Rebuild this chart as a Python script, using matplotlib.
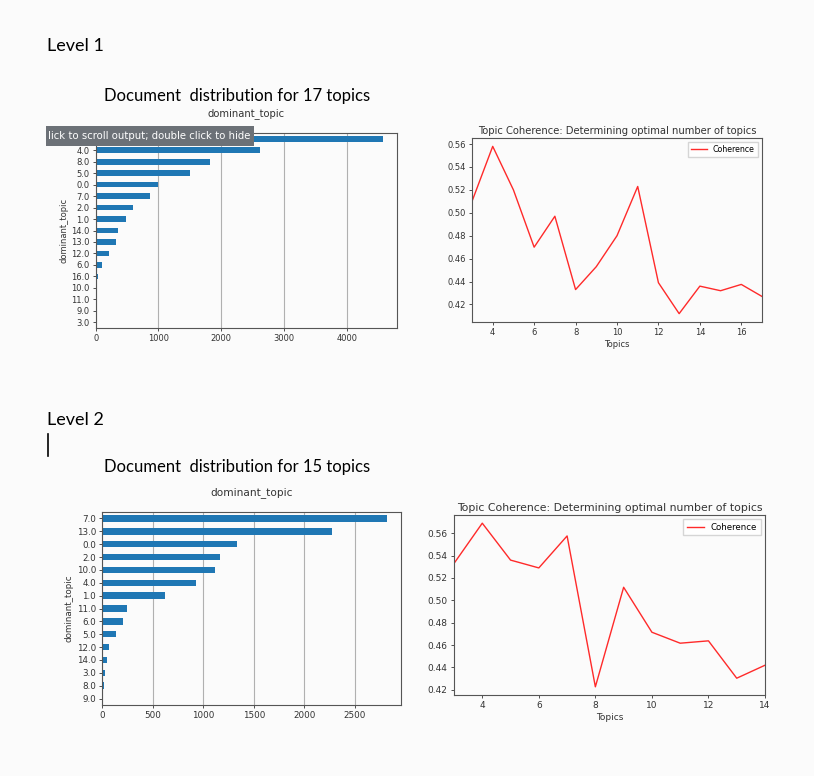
import matplotlib
matplotlib.use('Agg')
import matplotlib.pyplot as plt
from matplotlib.patches import Rectangle
from matplotlib.lines import Line2D

# level 1: document counts per dominant topic (top to bottom as shown)
topics_17 = ['15.0', '4.0', '8.0', '5.0', '0.0', '7.0', '2.0', '1.0', '14.0', '13.0',
             '12.0', '6.0', '16.0', '10.0', '11.0', '9.0', '3.0']
counts_17 = [4574, 2620, 1818, 1497, 1000, 861, 588, 487, 358, 330,
             215, 95, 35, 20, 20, 3, 1]

# level 2
topics_15 = ['7.0', '13.0', '0.0', '2.0', '10.0', '4.0', '1.0', '11.0', '6.0', '5.0',
             '12.0', '14.0', '3.0', '8.0', '9.0']
counts_15 = [2814, 2270, 1333, 1160, 1118, 931, 624, 248, 206, 134,
             65, 49, 23, 13, 2]

# coherence per number of topics
n_topics_1 = [3, 4, 5, 6, 7, 8, 9, 10, 11, 12, 13, 14, 15, 16, 17]
coherence_1 = [0.510, 0.558, 0.520, 0.470, 0.497, 0.433, 0.453, 0.480, 0.523,
               0.439, 0.412, 0.436, 0.432, 0.4375, 0.427]
n_topics_2 = [3, 4, 5, 6, 7, 8, 9, 10, 11, 12, 13, 14]
coherence_2 = [0.533, 0.569, 0.536, 0.529, 0.5576, 0.4227, 0.5117, 0.4715,
               0.4617, 0.4638, 0.4304, 0.442]

bg = '#fbfbfb'
W, H = 814, 776
fig = plt.figure(figsize=(W/100, H/100), dpi=100, facecolor=bg)
doc_font = ['Lato', 'DejaVu Sans']


def box(l, t, r, b):
    return [l/W, 1 - b/H, (r-l)/W, (b-t)/H]


def bar_panel(rect, labels, vals, fs):
    ax = fig.add_axes(rect, facecolor=bg)
    y = list(range(len(vals)))
    ax.barh(y, vals[::-1], height=0.5, color='#1f77b4', zorder=2)
    ax.set_yticks(y)
    ax.set_yticklabels(labels[::-1])
    ax.set_ylim(-0.5, len(vals) - 0.5)
    ax.set_xlim(0, max(vals) * 1.05)
    ax.grid(axis='x', color='#b0b0b0', lw=0.8, zorder=0)
    ax.tick_params(labelsize=fs, length=2.5, width=0.6, pad=2, colors='#333333')
    ax.set_ylabel('dominant_topic', fontsize=fs, color='#333333', labelpad=2)
    ax.set_title('dominant_topic', fontsize=fs * 1.2, color='#333333', pad=12)
    for s in ax.spines.values():
        s.set_color('#555555')
        s.set_linewidth(0.8)
    return ax


def line_panel(rect, xs, ys, fs):
    ax = fig.add_axes(rect, facecolor=bg)
    ax.plot(xs, ys, color='#ff2a2a', lw=1.0, label='Coherence')
    ax.set_xlim(xs[0], xs[-1])
    ax.set_xticks([x for x in xs if x % 2 == 0])
    ax.set_yticks([0.42, 0.44, 0.46, 0.48, 0.50, 0.52, 0.54, 0.56])
    ax.set_xlabel('Topics', fontsize=fs, color='#333333', labelpad=2)
    ax.set_title('Topic Coherence: Determining optimal number of topics',
                 fontsize=fs * 1.2, color='#333333', pad=3)
    ax.tick_params(labelsize=fs, length=2.5, width=0.6, pad=2, colors='#333333')
    ax.legend(loc='upper right', fontsize=fs * 0.95, edgecolor='#cccccc', fancybox=False)
    for s in ax.spines.values():
        s.set_color('#555555')
        s.set_linewidth(0.8)
    return ax


ax1 = bar_panel(box(95.7, 133, 397, 328), topics_17, counts_17, 6.0)
bar_panel(box(102.3, 512, 401, 705), topics_15, counts_15, 6.3)
line_panel(box(472, 138, 762, 322), n_topics_1, coherence_1, 6.0)
line_panel(box(454, 515, 765, 695), n_topics_2, coherence_2, 6.5)

# top tick label sits under the notebook tooltip, so it is not visible
ax1.get_yticklabels()[-1].set_visible(False)

# document text
fig.text(47/W, 1 - 46/H, 'Level 1', fontsize=13, family=doc_font, va='center', ha='left')
fig.text(47/W, 1 - 420/H, 'Level 2', fontsize=13, family=doc_font, va='center', ha='left')
fig.text(237/W, 1 - 96/H, 'Document  distribution for 17 topics', fontsize=12,
         family=doc_font, va='center', ha='center')
fig.text(237/W, 1 - 467/H, 'Document  distribution for 15 topics', fontsize=12,
         family=doc_font, va='center', ha='center')

# text cursor
fig.add_artist(Line2D([48/W, 48/W], [1 - 434/H, 1 - 456/H], color='black', lw=1.2))

# notebook tooltip overlay
fig.add_artist(Rectangle((46/W, 1 - 146/H), 208/W, 20/H, transform=fig.transFigure,
                         facecolor='#6c7177', edgecolor='none', zorder=10))
fig.text(48/W, 1 - 136/H, 'lick to scroll output; double click to hide', color='white',
         fontsize=7.3, va='center', ha='left', zorder=11)

fig.savefig('out.png', dpi=100, facecolor=bg)
